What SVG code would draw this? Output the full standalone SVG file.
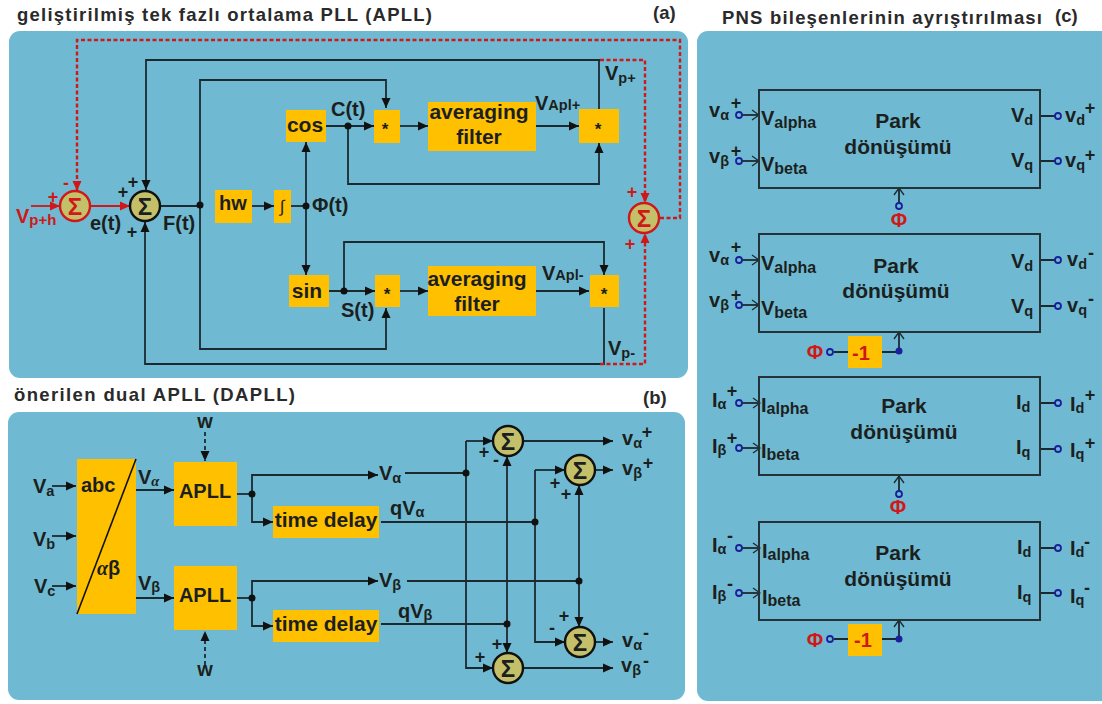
<svg xmlns="http://www.w3.org/2000/svg" width="1102" height="704" viewBox="0 0 1102 704">
<style>
text{font-family:"Liberation Sans",Arial,sans-serif;font-weight:bold;fill:#1c1f20}
.h{font-size:18.5px;fill:#2a2a2a}
.panel{fill:#6fbad2}
.o{fill:#ffc000}
.sum{fill:#c4c06a;stroke:#111;stroke-width:2.4}
.rsum{fill:#c4c06a;stroke:#d01818;stroke-width:2.4}
.c{fill:none;stroke:#1c2a30;stroke-width:1.8}
.a{marker-end:url(#ah)}
.as{marker-start:url(#ahs)}
.oa{marker-end:url(#open)}
.r{fill:none;stroke:#d01818;stroke-width:1.8}
.rd{stroke-dasharray:4 2.5;stroke-width:2.4}
.ra{marker-end:url(#rh)}
.d{fill:#111}
.port{fill:none;stroke:#1a1f9a;stroke-width:1.8}
.portd{fill:#1a1f9a}
.box{fill:none;stroke:#263238;stroke-width:2}
.t17{font-size:17px}
.t20{font-size:20px}
.t21{font-size:21px}
.m{text-anchor:middle}
.s{font-size:14.5px}
.sl{font-size:16px}
.sg{font-size:24px;text-anchor:middle;font-weight:bold}
.red,.red tspan{fill:#d01818}
.p{font-size:18px;text-anchor:middle}
.pk{font-size:21px;text-anchor:middle}
.it{font-family:"Liberation Serif",serif;font-style:italic}
</style>
<defs>
<marker id="ah" markerUnits="userSpaceOnUse" markerWidth="11" markerHeight="10" refX="10" refY="5" orient="auto"><path d="M0 .5L10 5L0 9.5z" fill="#111"/></marker>
<marker id="ahs" markerUnits="userSpaceOnUse" markerWidth="11" markerHeight="10" refX="0" refY="5" orient="auto"><path d="M10 .5L0 5L10 9.5z" fill="#111"/></marker>
<marker id="rh" markerUnits="userSpaceOnUse" markerWidth="11" markerHeight="10" refX="10" refY="5" orient="auto"><path d="M0 .5L10 5L0 9.5z" fill="#d01818"/></marker>
<marker id="open" markerUnits="userSpaceOnUse" markerWidth="10" markerHeight="12" refX="9" refY="6" orient="auto"><path d="M2 1L9 6L2 11" fill="none" stroke="#1c2a30" stroke-width="1.3"/></marker>
</defs>

<g id="panels">
<rect class="panel" x="9" y="31" width="679" height="347" rx="11"/>
<rect class="panel" x="8" y="412" width="677" height="288" rx="11"/>
<rect class="panel" x="697" y="31" width="415" height="670" rx="11"/>
</g>

<g id="titles">
<text class="h" x="17" y="21" textLength="415" lengthAdjust="spacing">geliştirilmiş tek fazlı ortalama PLL (APLL)</text>
<text class="h" x="653" y="19">(a)</text>
<text class="h" x="14" y="401" textLength="281" lengthAdjust="spacing">önerilen dual APLL (DAPLL)</text>
<text class="h" x="643" y="404">(b)</text>
<text class="h" x="722" y="24" textLength="320" lengthAdjust="spacing">PNS bileşenlerinin ayrıştırılması</text>
<text class="h" x="1055" y="22">(c)</text>
</g>

<g id="connectors">
<!-- panel a -->
<path class="c a" d="M600 60H146V190"/>
<path class="c a" d="M200 206V80H386V108"/>
<path class="c a" d="M200 206V349H386V308"/>
<path class="c a" d="M604 308V364H145V222"/>
<path class="c" d="M160 206H200"/>
<path class="c" d="M599 109V60"/>
<path class="c a" d="M252 206H274"/>
<path class="c" d="M291 206H306"/>
<path class="c a as" d="M306 275V142"/>
<path class="c a" d="M326 126H374"/>
<path class="c a" d="M400 126H428"/>
<path class="c a" d="M536 126H579"/>
<path class="c a" d="M348 126V184H599V143"/>
<path class="c a" d="M329 291H375"/>
<path class="c a" d="M344 291V242H604V275"/>
<path class="c a" d="M400 291H428"/>
<path class="c a" d="M536 291H589"/>
<path class="r ra" d="M31 206H60"/>
<path class="r ra" d="M90 206H130"/>
<path class="r rd ra" d="M660 218H680V40H77V191"/>
<path class="r rd ra" d="M600 60H645V203"/>
<path class="r rd ra" d="M600 364H645V233"/>
<!-- panel b -->
<path class="c a" d="M52 486H76"/>
<path class="c a" d="M52 536H76"/>
<path class="c a" d="M52 586H76"/>
<path class="c a" d="M135 490H174"/>
<path class="c a" d="M135 598H174"/>
<path class="c a" d="M205 432V461" stroke-dasharray="4 3"/>
<path class="c a" d="M205 665V631" stroke-dasharray="4 3"/>
<path class="c" d="M237 494H252"/>
<path class="c a" d="M252 494V475H378"/>
<path class="c a" d="M252 494V522H273"/>
<path class="c" d="M237 598H252"/>
<path class="c a" d="M252 598V581H378"/>
<path class="c a" d="M252 598V626H273"/>
<path class="c" d="M405 473H466"/>
<path class="c" d="M407 581H579"/>
<path class="c" d="M381 522H535"/>
<path class="c" d="M381 624H507"/>
<path class="c a" d="M466 441H493"/>
<path class="c a" d="M466 441V668H493"/>
<path class="c a as" d="M507 456V653"/>
<path class="c a" d="M535 470H565"/>
<path class="c a" d="M535 470V642H565"/>
<path class="c a as" d="M579 485V627"/>
<path class="c a" d="M523 441H613"/>
<path class="c a" d="M595 470H613"/>
<path class="c a" d="M595 642H613"/>
<path class="c a" d="M523 668H613"/>
<!-- panel c -->
<path class="c oa" d="M742 115H759"/><path class="c oa" d="M742 161H759"/>
<path class="c oa" d="M742 260H759"/><path class="c oa" d="M742 305H759"/>
<path class="c oa" d="M742 403H760"/><path class="c oa" d="M742 448H760"/>
<path class="c oa" d="M742 548H760"/><path class="c oa" d="M742 593H760"/>
<path class="c" d="M1040 116H1056M1040 161H1056M1040 260H1056M1040 306H1056M1040 403H1056M1040 449H1056M1040 548H1056M1040 593H1056"/>
<path class="c oa" d="M899 203V188"/>
<path class="c oa" d="M899 348V332"/>
<path class="c oa" d="M899 491V476"/>
<path class="c oa" d="M899 636V620"/>
<path class="c" d="M834 352H848M882 352H899M834 639H848M882 639H899"/>
</g>

<g id="junctions">
<circle class="d" cx="200" cy="205" r="3.5"/><circle class="d" cx="306" cy="206" r="3.5"/><circle class="d" cx="348" cy="126" r="3.5"/><circle class="d" cx="344" cy="291" r="3.5"/>
<circle class="d" cx="252" cy="494" r="3.5"/><circle class="d" cx="252" cy="598" r="3.5"/><circle class="d" cx="466" cy="473" r="3.5"/><circle class="d" cx="535" cy="522" r="3.5"/><circle class="d" cx="579" cy="581" r="3.5"/><circle class="d" cx="507" cy="624" r="3.5"/>
</g>

<g id="sum-e"><circle class="rsum" cx="75" cy="206" r="15"/><text class="sg red" x="75" y="215">Σ</text></g>
<g id="sum-f"><circle class="sum" cx="145" cy="206" r="15"/><text class="sg" x="145" y="215">Σ</text></g>
<g id="sum-out"><circle class="rsum" cx="644" cy="218" r="15"/><text class="sg red" x="644" y="227">Σ</text></g>
<g id="hw"><rect class="o" x="215" y="190" width="37" height="33"/><text class="t20 m" x="233" y="210">hw</text></g>
<g id="integrator"><rect class="o" x="274" y="190" width="17" height="33"/><text class="t17 m" x="282" y="212" style="font-weight:normal">∫</text></g>
<g id="cos"><rect class="o" x="286" y="110" width="40" height="32"/><text class="t21 m" x="305" y="132">cos</text></g>
<g id="sin"><rect class="o" x="289" y="275" width="40" height="32"/><text class="t21 m" x="307" y="298">sin</text></g>
<g id="mul1"><rect class="o" x="374" y="110" width="26" height="33"/><text class="t17 m" x="385" y="135">*</text></g>
<g id="mul2"><rect class="o" x="579" y="109" width="40" height="34"/><text class="t17 m" x="598" y="135">*</text></g>
<g id="mul3"><rect class="o" x="375" y="275" width="25" height="32"/><text class="t17 m" x="387" y="300">*</text></g>
<g id="mul4"><rect class="o" x="590" y="275" width="29" height="32"/><text class="t17 m" x="604" y="300">*</text></g>
<g id="filter1"><rect class="o" x="428" y="102" width="108" height="49"/><text class="t21 m" x="479" y="119">averaging</text><text class="t21 m" x="479" y="144">filter</text></g>
<g id="filter2"><rect class="o" x="428" y="266" width="108" height="50"/><text class="t21 m" x="477" y="286">averaging</text><text class="t21 m" x="477" y="311">filter</text></g>

<g id="labels-a">
<text class="t20 red" x="16" y="223">V<tspan style="font-size:15px" dy="2">p+h</tspan></text>
<text class="p red" x="53" y="203">+</text><text class="p red" x="66" y="189">-</text>
<text class="p" x="133" y="188">+</text><text class="p" x="123" y="198">+</text><text class="p" x="132" y="238">+</text>
<text class="t20" x="90" y="230">e(t)</text><text class="t20" x="163" y="230">F(t)</text>
<text class="t20" x="312" y="212">Φ(t)</text><text class="t20" x="331" y="116">C(t)</text><text class="t20" x="341" y="317">S(t)</text>
<text class="t20" x="535" y="110">V<tspan class="s" dy="0">Apl+</tspan></text>
<text class="t20" x="542" y="280">V<tspan class="s" dy="0">Apl-</tspan></text>
<text class="t20" x="605" y="80">V<tspan class="s" dy="3">p+</tspan></text>
<text class="t20" x="608" y="355">V<tspan class="s" dy="3">p-</tspan></text>
<text class="p red" x="632" y="198">+</text><text class="p red" x="630" y="250">+</text>
</g>

<g id="abc-ab"><rect class="o" x="77" y="459" width="59" height="155"/><path d="M136 459L77 614" stroke="#111" stroke-width="1.6" fill="none"/><text class="t20" x="81" y="492">abc</text><text class="t20" x="97" y="575"><tspan class="it">α</tspan>β</text></g>
<g id="apll1"><rect class="o" x="174" y="462" width="63" height="64"/><text class="t20 m" x="205" y="498">APLL</text></g>
<g id="apll2"><rect class="o" x="174" y="566" width="63" height="64"/><text class="t20 m" x="205" y="602">APLL</text></g>
<g id="delay1"><rect class="o" x="273" y="506" width="106" height="32"/><text class="t21 m" x="326" y="527">time delay</text></g>
<g id="delay2"><rect class="o" x="273" y="610" width="106" height="32"/><text class="t21 m" x="326" y="631">time delay</text></g>
<g id="s1"><circle class="sum" cx="508" cy="441" r="15"/><text class="sg" x="508" y="450">Σ</text></g>
<g id="s2"><circle class="sum" cx="580" cy="470" r="15"/><text class="sg" x="580" y="479">Σ</text></g>
<g id="s3"><circle class="sum" cx="580" cy="642" r="15"/><text class="sg" x="580" y="651">Σ</text></g>
<g id="s4"><circle class="sum" cx="508" cy="668" r="15"/><text class="sg" x="508" y="677">Σ</text></g>

<g id="labels-b">
<text class="t20" x="33" y="493">V<tspan class="s" dy="3">a</tspan></text>
<text class="t20" x="33" y="546">V<tspan class="s" dy="3">b</tspan></text>
<text class="t20" x="34" y="593">V<tspan class="s" dy="3">c</tspan></text>
<text class="t20" x="138" y="484">V<tspan class="s it" dy="2">α</tspan></text>
<text class="t20" x="138" y="590">V<tspan class="s" dy="2">β</tspan></text>
<text class="t20 m" x="205" y="428">w</text><text class="t20 m" x="205" y="676">w</text>
<text class="t20" x="379" y="480">V<tspan class="s" dy="3">α</tspan></text>
<text class="t20" x="379" y="587">V<tspan class="s" dy="3">β</tspan></text>
<text class="t20" x="390" y="515">qV<tspan class="s" dy="2">α</tspan></text>
<text class="t20" x="398" y="618">qV<tspan class="s" dy="2">β</tspan></text>
<text class="t20" x="622" y="445">v<tspan class="s" dy="3">α</tspan></text><text class="p" x="647" y="438">+</text>
<text class="t20" x="622" y="475">v<tspan class="s" dy="3">β</tspan></text><text class="p" x="648" y="469">+</text>
<text class="t20" x="622" y="647">v<tspan class="s" dy="3">α</tspan></text><text class="p" x="646" y="639">-</text>
<text class="t20" x="621" y="672">v<tspan class="s" dy="3">β</tspan></text><text class="p" x="646" y="667">-</text>
<text class="p" x="484" y="458">+</text><text class="p" x="496" y="466">-</text>
<text class="p" x="555" y="489">+</text><text class="p" x="566" y="500">+</text>
<text class="p" x="564" y="622">+</text><text class="p" x="552" y="634">-</text>
<text class="p" x="497" y="650">+</text><text class="p" x="480" y="663">+</text>
</g>

<g id="park1"><rect class="box" x="759" y="90" width="281" height="98"/><text class="pk" x="898" y="128">Park</text><text class="pk" x="898" y="154">dönüşümü</text>
<text class="t20" x="761" y="125">V<tspan class="sl" dy="3">alpha</tspan></text><text class="t20" x="761" y="171">V<tspan class="sl" dy="3">beta</tspan></text><text class="t20" x="1011" y="122">V<tspan class="s" dy="3">d</tspan></text><text class="t20" x="1011" y="167">V<tspan class="s" dy="3">q</tspan></text></g>
<g id="park2"><rect class="box" x="759" y="234" width="281" height="98"/><text class="pk" x="896" y="273">Park</text><text class="pk" x="896" y="298">dönüşümü</text>
<text class="t20" x="761" y="270">V<tspan class="sl" dy="3">alpha</tspan></text><text class="t20" x="761" y="315">V<tspan class="sl" dy="3">beta</tspan></text><text class="t20" x="1011" y="268">V<tspan class="s" dy="3">d</tspan></text><text class="t20" x="1011" y="313">V<tspan class="s" dy="3">q</tspan></text></g>
<g id="park3"><rect class="box" x="759" y="377" width="281" height="98"/><text class="pk" x="904" y="413">Park</text><text class="pk" x="904" y="439">dönüşümü</text>
<text class="t20" x="761" y="412">I<tspan class="sl" dy="2">alpha</tspan></text><text class="t20" x="761" y="458">I<tspan class="sl" dy="2">beta</tspan></text><text class="t20" x="1016" y="409">I<tspan class="s" dy="3">d</tspan></text><text class="t20" x="1016" y="454">I<tspan class="s" dy="3">q</tspan></text></g>
<g id="park4"><rect class="box" x="759" y="522" width="281" height="98"/><text class="pk" x="898" y="560">Park</text><text class="pk" x="898" y="586">dönüşümü</text>
<text class="t20" x="762" y="558">I<tspan class="sl" dy="2">alpha</tspan></text><text class="t20" x="762" y="604">I<tspan class="sl" dy="2">beta</tspan></text><text class="t20" x="1017" y="554">I<tspan class="s" dy="3">d</tspan></text><text class="t20" x="1017" y="599">I<tspan class="s" dy="3">q</tspan></text></g>

<g id="neg1"><rect class="o" x="848" y="336" width="34" height="32"/><text class="t20 m red" x="861" y="360">-1</text></g>
<g id="neg2"><rect class="o" x="848" y="624" width="34" height="32"/><text class="t20 m red" x="863" y="647">-1</text></g>

<g id="ports">
<g class="port"><circle cx="739" cy="115" r="3"/><circle cx="739" cy="161" r="3"/><circle cx="739" cy="260" r="3"/><circle cx="739" cy="305" r="3"/><circle cx="739" cy="403" r="3"/><circle cx="739" cy="448" r="3"/><circle cx="739" cy="548" r="3"/><circle cx="739" cy="593" r="3"/>
<circle cx="1058" cy="116" r="3"/><circle cx="1058" cy="161" r="3"/><circle cx="1058" cy="260" r="3"/><circle cx="1058" cy="306" r="3"/><circle cx="1058" cy="403" r="3"/><circle cx="1058" cy="449" r="3"/><circle cx="1058" cy="548" r="3"/><circle cx="1058" cy="593" r="3"/>
<circle cx="899" cy="206" r="3"/><circle cx="899" cy="494" r="3"/><circle cx="830" cy="352" r="3"/><circle cx="830" cy="639" r="3"/></g>
<circle class="portd" cx="899" cy="351" r="3.5"/><circle class="portd" cx="899" cy="639" r="3.5"/>
</g>

<g id="labels-c">
<text class="t20" x="709" y="117">v<tspan class="s" dy="3">α</tspan></text><text class="p" x="736" y="109">+</text>
<text class="t20" x="709" y="163">v<tspan class="s" dy="3">β</tspan></text><text class="p" x="736" y="157">+</text>
<text class="t20" x="709" y="262">v<tspan class="s" dy="3">α</tspan></text><text class="p" x="736" y="253">+</text>
<text class="t20" x="709" y="307">v<tspan class="s" dy="3">β</tspan></text><text class="p" x="736" y="301">+</text>
<text class="t20" x="712" y="407">I<tspan class="s" dy="2">α</tspan></text><text class="p" x="732" y="397">+</text>
<text class="t20" x="712" y="453">I<tspan class="s" dy="2">β</tspan></text><text class="p" x="732" y="444">+</text>
<text class="t20" x="712" y="552">I<tspan class="s" dy="2">α</tspan></text><text class="p" x="730" y="542">-</text>
<text class="t20" x="712" y="599">I<tspan class="s" dy="2">β</tspan></text><text class="p" x="730" y="590">-</text>
<text class="t20" x="1065" y="122">v<tspan class="s" dy="3">d</tspan></text><text class="p" x="1090" y="114">+</text>
<text class="t20" x="1065" y="167">v<tspan class="s" dy="3">q</tspan></text><text class="p" x="1090" y="161">+</text>
<text class="t20" x="1067" y="266">v<tspan class="s" dy="3">d</tspan></text><text class="p" x="1091" y="259">-</text>
<text class="t20" x="1067" y="312">v<tspan class="s" dy="3">q</tspan></text><text class="p" x="1091" y="305">-</text>
<text class="t20" x="1070" y="411">I<tspan class="s" dy="2">d</tspan></text><text class="p" x="1090" y="401">+</text>
<text class="t20" x="1070" y="457">I<tspan class="s" dy="2">q</tspan></text><text class="p" x="1090" y="449">+</text>
<text class="t20" x="1070" y="555">I<tspan class="s" dy="2">d</tspan></text><text class="p" x="1087" y="548">-</text>
<text class="t20" x="1070" y="603">I<tspan class="s" dy="2">q</tspan></text><text class="p" x="1087" y="594">-</text>
<text class="t20 m red" x="899" y="227">Φ</text>
<text class="t20 m red" x="815" y="359">Φ</text>
<text class="t20 m red" x="898" y="514">Φ</text>
<text class="t20 m red" x="815" y="647">Φ</text>
</g>
</svg>
